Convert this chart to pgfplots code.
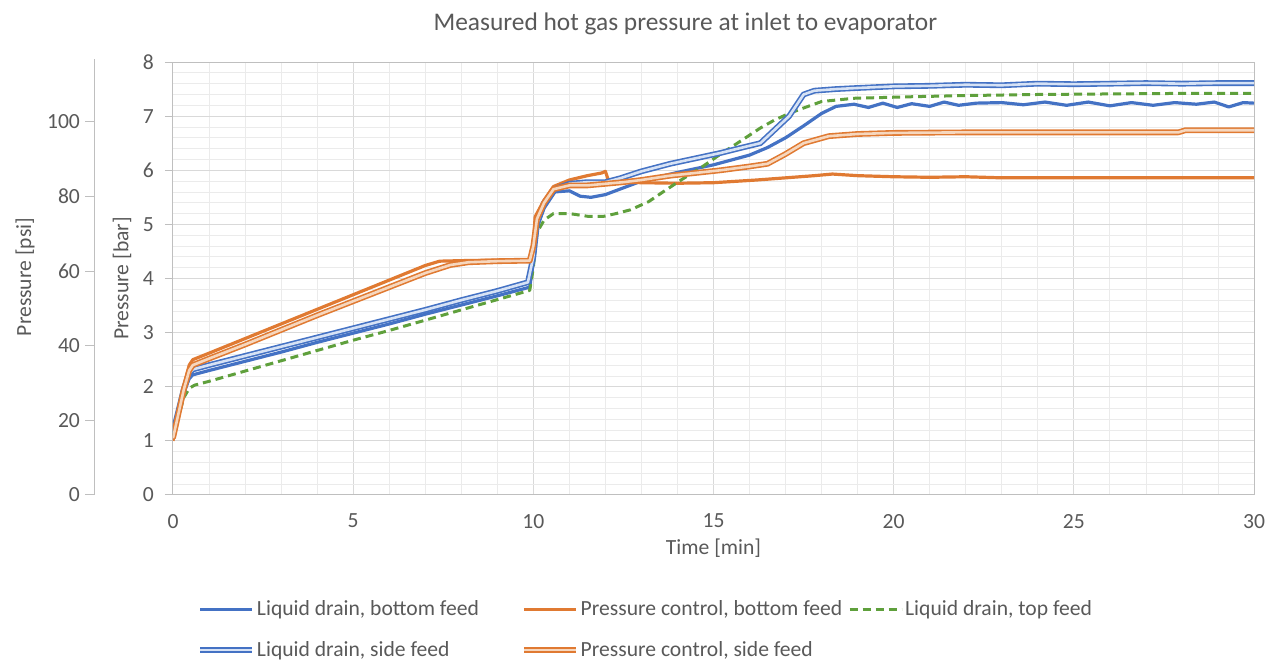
\documentclass[border=0pt]{standalone}
\usepackage{pgfplots}
\pgfplotsset{compat=1.18}
\usepackage{fontspec}
\setmainfont{Carlito}

\definecolor{txtgray}{HTML}{595959}
\definecolor{axgray}{HTML}{BFBFBF}
\definecolor{majgrid}{HTML}{D9D9D9}
\definecolor{mingrid}{HTML}{EBEBEB}
\definecolor{xlblue}{HTML}{4472C4}
\definecolor{xlorange}{HTML}{E07A32}
\definecolor{xlgreen}{HTML}{5FA03C}
\definecolor{lightblue}{HTML}{D6E2F5}
\definecolor{lightorange}{HTML}{F6D7BE}

\newcommand{\lblfont}{\fontsize{10.8}{13}\selectfont}

\begin{document}
\begin{tikzpicture}
% main axis: pressure in bar
\begin{axis}[
  at={(0,0)}, anchor=south west,
  scale only axis, width=540.5pt, height=216.5pt,
  xmin=0, xmax=30, ymin=0, ymax=8,
  xtick={0,5,...,30}, ytick={0,1,...,8},
  minor x tick num=4, minor y tick num=4,
  grid=both,
  major grid style={draw=majgrid, line width=0.5pt},
  minor grid style={draw=mingrid, line width=0.4pt},
  axis line style={draw=axgray, line width=0.5pt},
  tick align=outside, ytick pos=left, xtick pos=bottom,
  major tick length=4pt, minor tick length=0pt,
  xtick style={draw=none}, ytick style={draw=axgray, line width=0.5pt},
  tick label style={font=\lblfont, text=txtgray},
  /pgf/number format/assume math mode=true,
  xticklabel style={yshift=-2pt},
  yticklabel style={xshift=-2pt},
  xlabel={Time [min]}, ylabel={Pressure [bar]},
  every axis x label/.style={at={(axis description cs:0.5,0)}, anchor=center,
    yshift=-26.5pt, font=\lblfont, text=txtgray},
  every axis y label/.style={at={(axis description cs:0,0.5)}, xshift=-25.5pt,
    rotate=90, anchor=center, font=\lblfont, text=txtgray},
  title={Measured hot gas pressure at inlet to evaporator},
  title style={at={(0.474,1)}, anchor=center, yshift=13pt,
    font=\fontsize{12.7}{15}\selectfont, text=txtgray},
  legend image code/.code={\draw[#1] (0pt,0pt) -- (26pt,0pt);},
  legend columns=3, legend cell align=left,
  legend style={at={(0.022,-0.239)}, anchor=north west, draw=none, fill=none,
    font=\lblfont, text=txtgray, inner sep=0pt, row sep=9.5pt,
    nodes={inner sep=1pt, text depth=0.25ex},
    /tikz/column 2/.style={column sep=20pt},
    /tikz/column 4/.style={column sep=2pt}},
  line join=round,
]
% Liquid drain, bottom feed
\addplot[xlblue, line width=1.6pt] coordinates {
(0,1.1) (0.15,1.5) (0.3,1.9) (0.45,2.15) (0.55,2.22) (1,2.3) (2,2.47) (3,2.64)
(4,2.82) (5,2.99) (6,3.16) (7,3.34) (8,3.51) (9,3.68) (9.9,3.84) (10.0,4.3)
(10.1,4.95) (10.3,5.3) (10.6,5.6) (11.0,5.62) (11.3,5.52) (11.6,5.5) (12.0,5.55)
(12.4,5.65) (13,5.8) (14,5.96) (15,6.1) (16,6.28) (16.5,6.42) (17,6.6)
(17.5,6.82) (18,7.05) (18.4,7.18) (18.9,7.22) (19.3,7.16) (19.7,7.24) (20.1,7.16)
(20.5,7.23) (21,7.18) (21.4,7.26) (21.8,7.2) (22.3,7.24) (23,7.25) (23.6,7.21)
(24.2,7.26) (24.8,7.2) (25.4,7.26) (26,7.19) (26.6,7.25) (27.2,7.2) (27.8,7.25)
(28.4,7.22) (28.9,7.26) (29.3,7.17) (29.7,7.25) (30,7.24)
};
\addlegendentry{Liquid drain, bottom feed}
% Pressure control, bottom feed
\addplot[xlorange, line width=1.6pt] coordinates {
(0,1.0) (0.15,1.5) (0.3,2.0) (0.45,2.4) (0.55,2.5) (1,2.62) (2,2.89) (3,3.16)
(4,3.43) (5,3.7) (6,3.97) (7,4.24) (7.4,4.32) (8,4.33) (9,4.34) (9.9,4.35)
(10.0,4.6) (10.05,5.14) (10.3,5.45) (10.56,5.7) (11,5.82) (11.5,5.9) (11.9,5.95)
(12.0,5.98) (12.1,5.78) (12.5,5.78) (13,5.77) (14,5.76) (15,5.77) (16.2,5.82)
(17,5.86) (17.8,5.9) (18.3,5.93) (19,5.9) (20,5.88) (21,5.87) (22,5.88)
(23,5.86) (24,5.86) (25,5.86) (26,5.86) (27,5.86) (28,5.86) (29,5.86) (30,5.86)
};
\addlegendentry{Pressure control, bottom feed}
% Liquid drain, top feed
\addplot[xlgreen, line width=1.5pt, dash pattern=on 4pt off 2.5pt] coordinates {
(0,1.1) (0.15,1.45) (0.3,1.8) (0.45,1.97) (0.6,2.03) (1,2.1) (2,2.29) (3,2.48)
(4,2.67) (5,2.86) (6,3.04) (7,3.23) (8,3.42) (9,3.61) (9.9,3.78) (10.0,4.2)
(10.1,4.85) (10.3,5.08) (10.56,5.2) (11,5.2) (11.5,5.15) (11.96,5.15) (12.3,5.2)
(12.7,5.27) (13.2,5.42) (13.6,5.6) (14.1,5.82) (14.7,6.07) (15.2,6.3) (15.8,6.56)
(16.3,6.78) (16.7,6.93) (17.1,7.05) (17.5,7.15) (18,7.27) (18.9,7.33) (20.6,7.36)
(22,7.38) (24,7.4) (26,7.41) (28,7.42) (30,7.42)
};
\addlegendentry{Liquid drain, top feed}
% Liquid drain, side feed
\addplot[xlblue, line width=0.8pt, double=lightblue, double distance=1.3pt] coordinates {
(0,1.15) (0.15,1.55) (0.3,1.95) (0.45,2.25) (0.55,2.32) (1,2.4) (2,2.57) (3,2.74)
(4,2.91) (5,3.08) (6,3.25) (7,3.42) (8,3.6) (9,3.77) (9.85,3.93) (10.0,4.4)
(10.1,5.0) (10.3,5.4) (10.6,5.65) (11,5.75) (11.5,5.78) (12,5.78) (12.4,5.85)
(13,5.98) (13.8,6.12) (14.5,6.22) (15.2,6.32) (15.8,6.42) (16.3,6.5) (16.7,6.75)
(17.1,7.0) (17.5,7.4) (17.8,7.47) (18.4,7.5) (19,7.52) (20,7.55) (21,7.56)
(22,7.58) (23,7.57) (24,7.6) (25,7.59) (26,7.6) (27,7.61) (28,7.6) (29,7.61) (30,7.61)
};
\addlegendentry{Liquid drain, side feed}
% Pressure control, side feed
\addplot[xlorange, line width=0.8pt, double=lightorange, double distance=1.3pt] coordinates {
(0,1.05) (0.15,1.5) (0.3,1.95) (0.45,2.3) (0.55,2.4) (1,2.52) (2,2.78) (3,3.05)
(4,3.32) (5,3.58) (6,3.84) (7,4.1) (7.7,4.25) (8.2,4.3) (9,4.32) (9.9,4.33)
(10.0,4.6) (10.1,5.1) (10.3,5.4) (10.56,5.65) (11,5.72) (11.5,5.72) (12,5.75)
(12.5,5.78) (13,5.82) (13.8,5.9) (14.5,5.95) (15.2,6.0) (16,6.07) (16.5,6.12)
(17,6.3) (17.5,6.5) (18.2,6.63) (19,6.67) (20,6.69) (22,6.7) (24,6.7) (26,6.7)
(27.9,6.7) (28.1,6.74) (30,6.74)
};
\addlegendentry{Pressure control, side feed}
\end{axis}

% secondary scale: pressure in psi (8 bar = 116.03 psi)
\begin{axis}[
  at={(-39pt,0)}, anchor=south west,
  scale only axis, width=1pt, height=218pt,
  xmin=0, xmax=1, ymin=0, ymax=116.8,
  ytick={0,20,...,100},
  hide x axis, axis y line*=left,
  axis line style={draw=axgray, line width=0.5pt, -},
  tick align=outside, major tick length=5pt,
  ytick style={draw=axgray, line width=0.5pt},
  tick label style={font=\lblfont, text=txtgray},
  /pgf/number format/assume math mode=true,
  yticklabel style={xshift=1pt},
  ylabel={Pressure [psi]},
  every axis y label/.style={at={(axis description cs:0,0.5)}, xshift=-35pt,
    rotate=90, anchor=center, font=\lblfont, text=txtgray},
]
\addplot[draw=none] coordinates {(0,0) (1,116.8)};
\end{axis}

\pgfresetboundingbox
\path (-86.5pt,-84pt) rectangle (551.5pt,247.5pt);
\end{tikzpicture}
\end{document}
